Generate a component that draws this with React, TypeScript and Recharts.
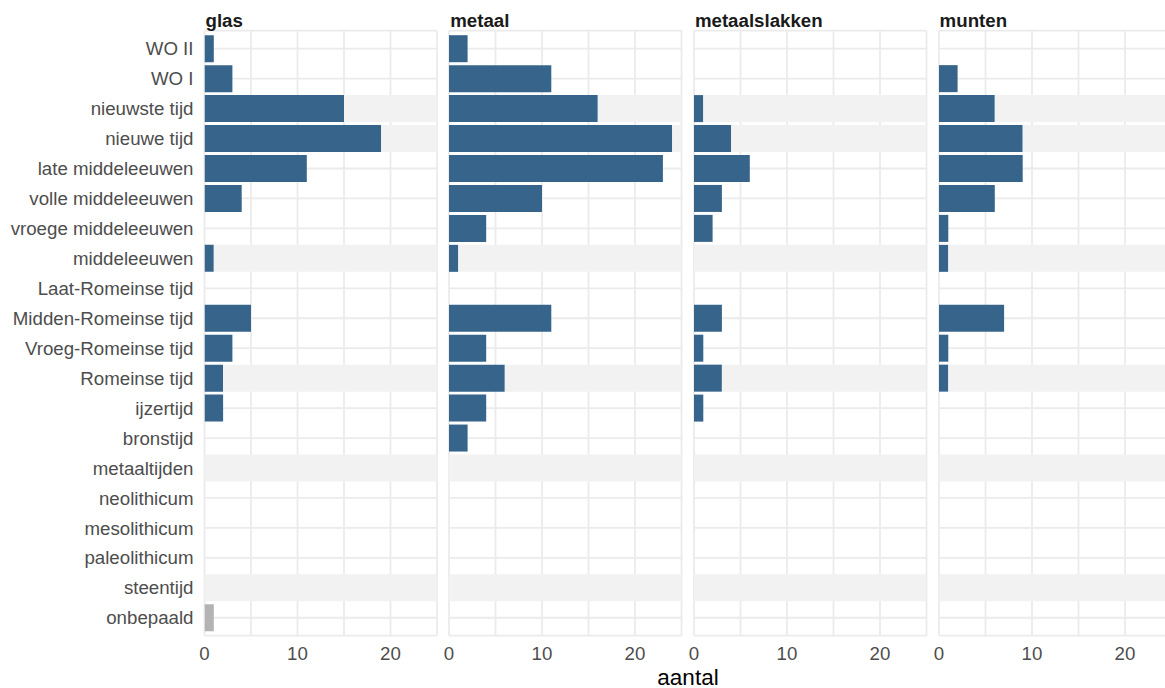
import React from 'react';
import { BarChart, Bar, XAxis, YAxis, CartesianGrid, Cell } from 'recharts';

// ---- data ----
const periods = [
  'WO II',
  'WO I',
  'nieuwste tijd',
  'nieuwe tijd',
  'late middeleeuwen',
  'volle middeleeuwen',
  'vroege middeleeuwen',
  'middeleeuwen',
  'Laat-Romeinse tijd',
  'Midden-Romeinse tijd',
  'Vroeg-Romeinse tijd',
  'Romeinse tijd',
  'ijzertijd',
  'bronstijd',
  'metaaltijden',
  'neolithicum',
  'mesolithicum',
  'paleolithicum',
  'steentijd',
  'onbepaald',
];

const bandPeriods = ['nieuwste tijd', 'nieuwe tijd', 'middeleeuwen', 'Romeinse tijd', 'metaaltijden', 'steentijd'];
const unknownPeriod = 'onbepaald';

const panelNames = ['glas', 'metaal', 'metaalslakken', 'munten'];

const glas = [1, 3, 15, 19, 11, 4, 0, 1, 0, 5, 3, 2, 2, 0, 0, 0, 0, 0, 0, 1];
const metaal = [2, 11, 16, 24, 23, 10, 4, 1, 0, 11, 4, 6, 4, 2, 0, 0, 0, 0, 0, 0];
const metaalslakken = [0, 0, 1, 4, 6, 3, 2, 0, 0, 3, 1, 3, 1, 0, 0, 0, 0, 0, 0, 0];
const munten = [0, 2, 6, 9, 9, 6, 1, 1, 0, 7, 1, 1, 0, 0, 0, 0, 0, 0, 0, 0];

const panelValues = [glas, metaal, metaalslakken, munten];

const xTicks = [0, 5, 10, 15, 20];
const xLabelTicks = [0, 10, 20];
const xMax = 25;
const xTitle = 'aantal';

// ---- style ----
const FONT = '"Liberation Sans", Arial, Helvetica, sans-serif';
const BLUE = '#36648B';
const GREY_BAR = '#B3B3B3';
const BAND = '#F2F2F2';
const GRID = '#EBEBEB';
const AXIS_TEXT = '#4D4D4D';
const TEXT_SIZE = 18.7;

const CHART_H = 688;
const PLOT_TOP = 30.7;
const PLOT_H = 605;
const X_AXIS_H = 30;
const PANEL_W = 232.5;
const PAD = 12;
const panelLefts = [204.5, 449.2, 693.9, 938.6];

function Panel({ index }: { index: number }) {
  const values = panelValues[index];
  const data = periods.map((p, i) => ({
    period: p,
    value: values[i],
    band: bandPeriods.includes(p) ? xMax - values[i] : 0,
  }));
  const first = index === 0;
  const left = first ? 0 : panelLefts[index] - PAD;
  const width = first ? panelLefts[0] + PANEL_W + PAD : PANEL_W + 2 * PAD;
  return (
    <div style={{ position: 'absolute', left, top: 0 }}>
      <BarChart
        layout="vertical"
        width={width}
        height={CHART_H}
        data={data}
        barCategoryGap="5%"
        margin={{
          top: PLOT_TOP,
          right: PAD,
          left: first ? 0 : PAD,
          bottom: CHART_H - PLOT_TOP - PLOT_H - X_AXIS_H,
        }}
      >
        <CartesianGrid stroke={GRID} strokeWidth={1.8} />
        <XAxis
          type="number"
          domain={[0, xMax]}
          ticks={xTicks}
          interval={0}
          allowDataOverflow
          tickFormatter={(v: number) => (xLabelTicks.includes(v) ? String(v) : '')}
          axisLine={false}
          tickLine={false}
          tickSize={6}
          tickMargin={5}
          height={X_AXIS_H}
          tick={{ fill: AXIS_TEXT, fontSize: TEXT_SIZE, fontFamily: FONT }}
        />
        {first ? (
          <YAxis
            type="category"
            dataKey="period"
            width={panelLefts[0]}
            interval={0}
            axisLine={false}
            tickLine={false}
            tickSize={0}
            tickMargin={11}
            padding={{ top: 3, bottom: 3 }}
            tick={{ fill: AXIS_TEXT, fontSize: TEXT_SIZE, fontFamily: FONT }}
          />
        ) : (
          <YAxis type="category" dataKey="period" hide padding={{ top: 3, bottom: 3 }} />
        )}
        <Bar dataKey="value" stackId="s" isAnimationActive={false}>
          {data.map((d, i) => (
            <Cell key={i} fill={d.period === unknownPeriod ? GREY_BAR : BLUE} />
          ))}
        </Bar>
        <Bar dataKey="band" stackId="s" fill={BAND} isAnimationActive={false} />
      </BarChart>
    </div>
  );
}

export default function App() {
  return (
    <div
      style={{
        position: 'absolute',
        left: 0,
        top: 0,
        width: 1165,
        height: CHART_H,
        overflow: 'hidden',
        background: '#ffffff',
        fontFamily: FONT,
      }}
    >
      {panelNames.map((n, i) => (
        <Panel key={n} index={i} />
      ))}
      <svg
        width={1165}
        height={CHART_H}
        style={{ position: 'absolute', left: 0, top: 0, pointerEvents: 'none' }}
      >
        {panelNames.map((n, i) => (
          <text
            key={n}
            x={panelLefts[i] + 1}
            y={26.5}
            fontFamily={FONT}
            fontSize={TEXT_SIZE}
            fontWeight="bold"
            fill="#1A1A1A"
          >
            {n}
          </text>
        ))}
        <text x={688} y={684.5} textAnchor="middle" fontFamily={FONT} fontSize={22.5} fill="#000000">
          {xTitle}
        </text>
      </svg>
    </div>
  );
}
